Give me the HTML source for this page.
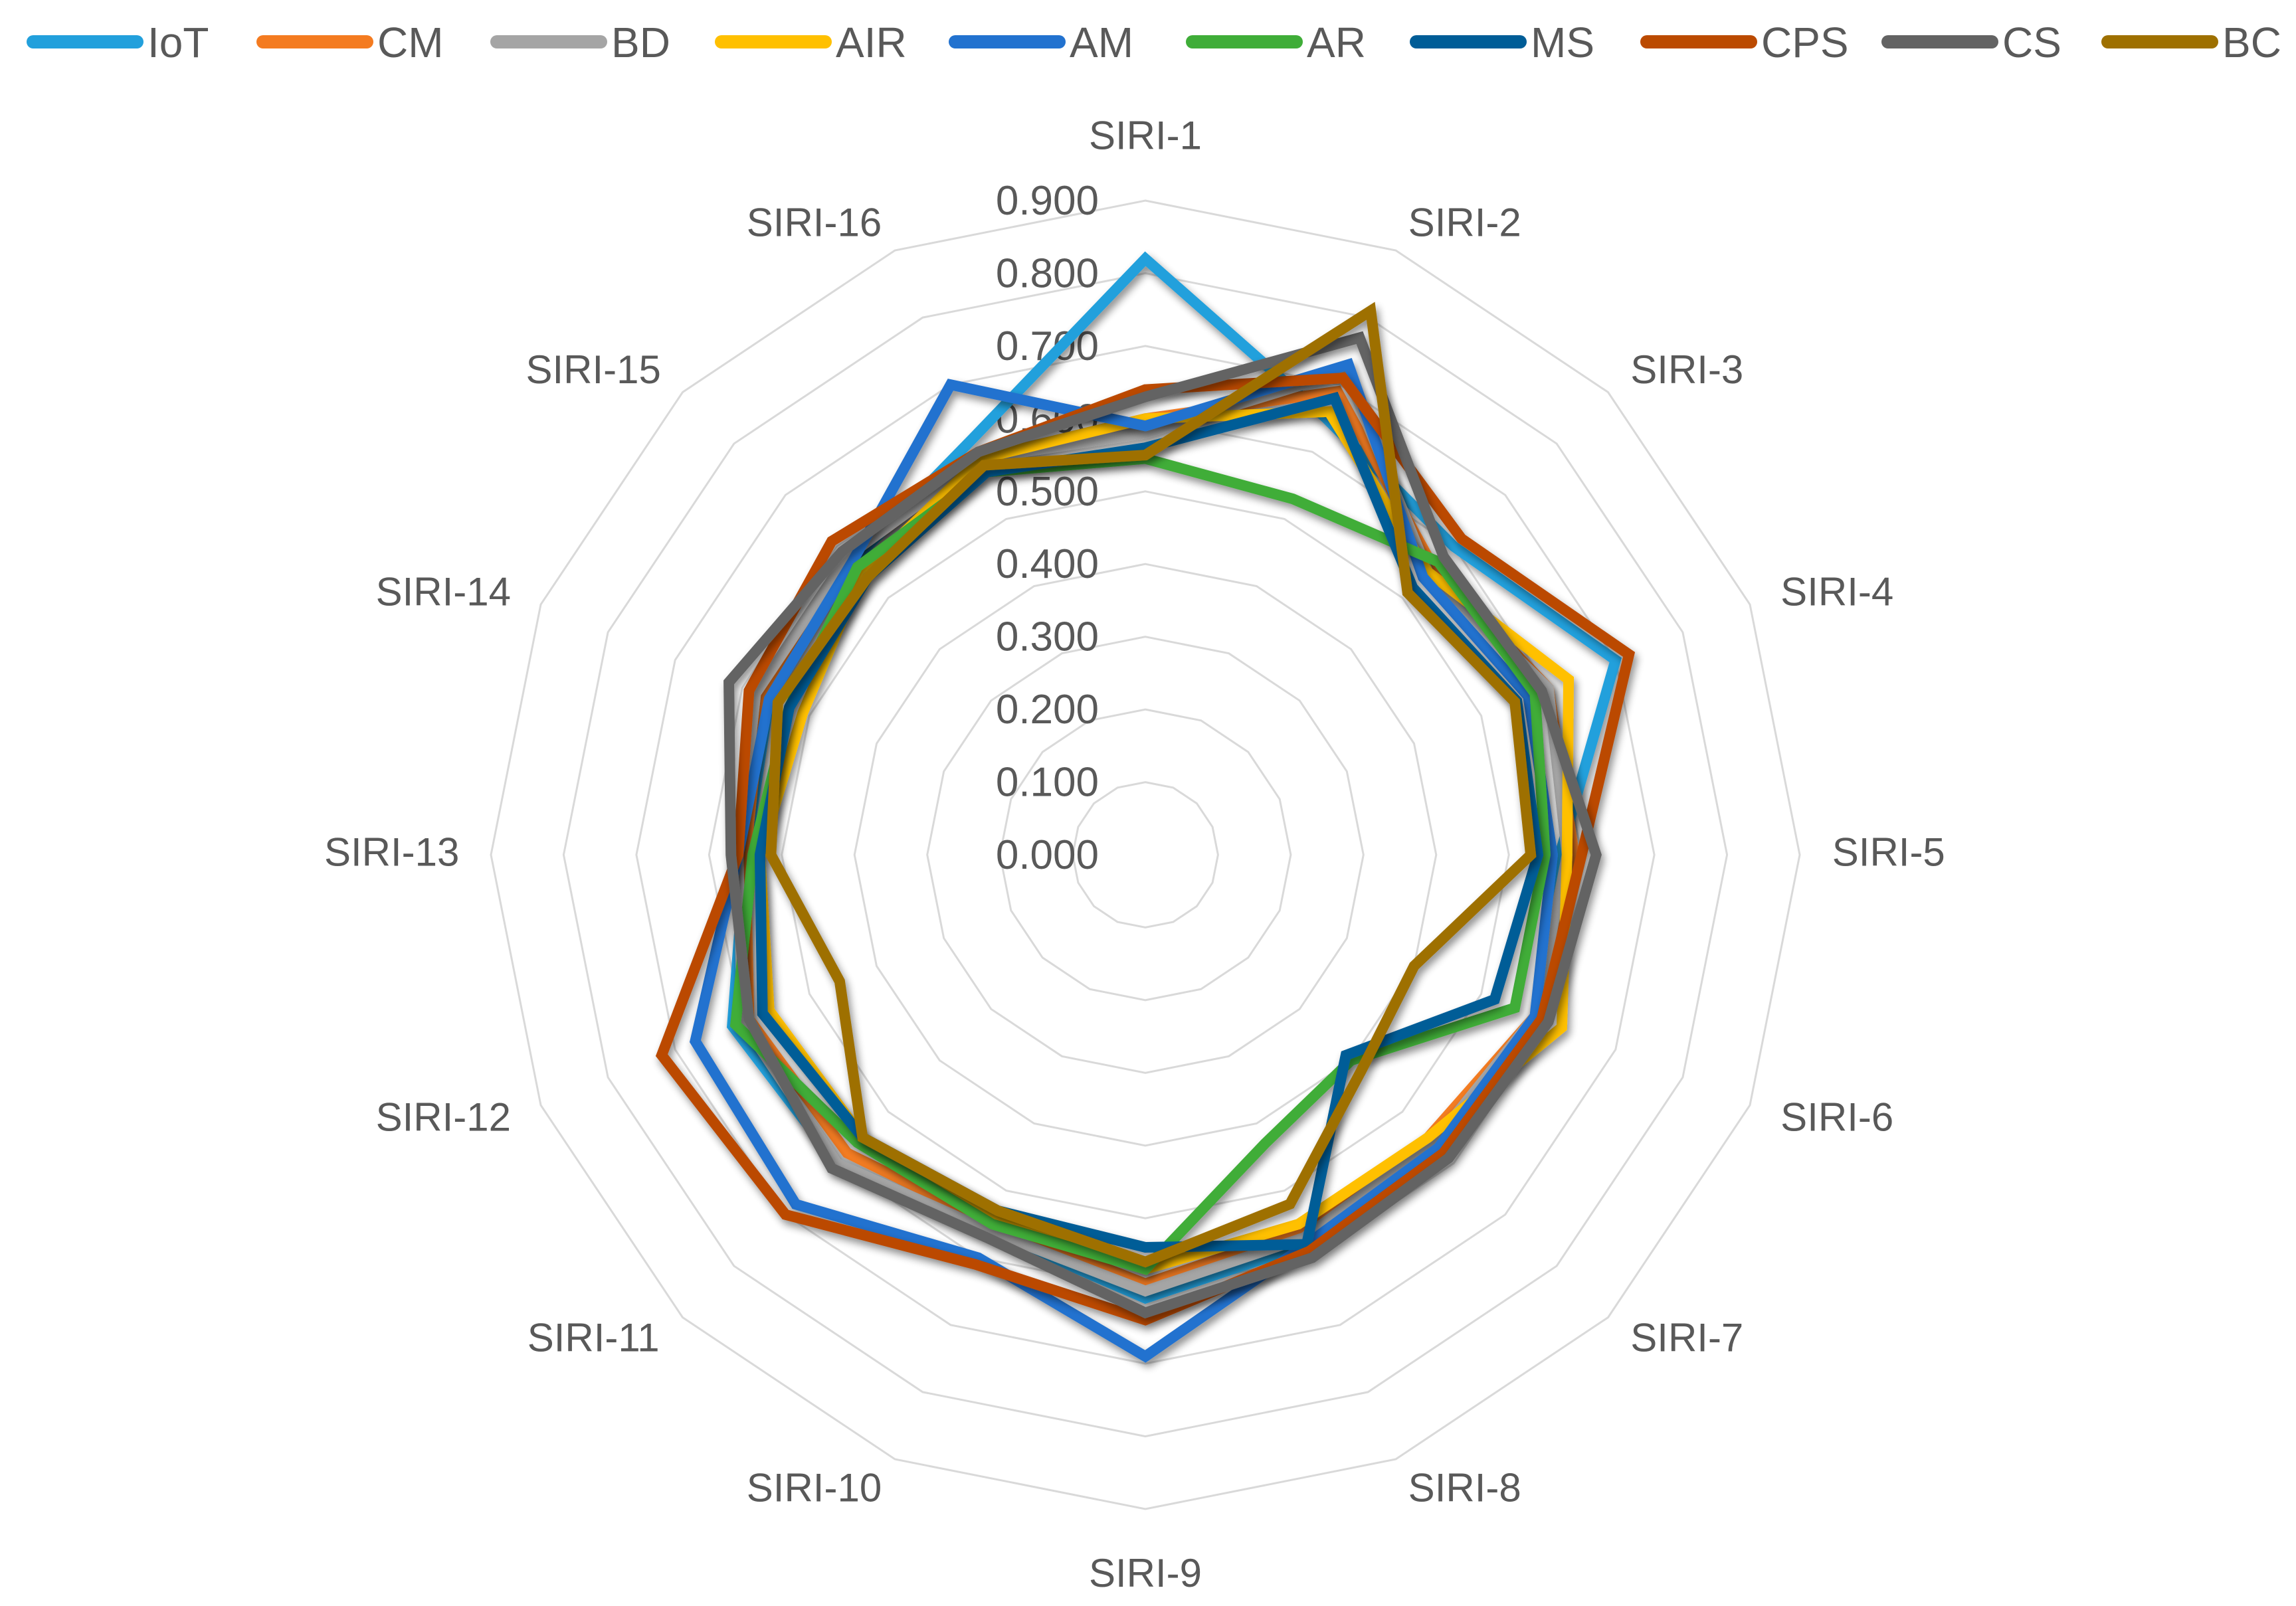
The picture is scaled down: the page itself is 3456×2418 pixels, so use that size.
<!DOCTYPE html>
<html><head><meta charset="utf-8">
<style>
html,body{margin:0;padding:0;background:#fff;}
svg{display:block;font-family:"Liberation Sans",sans-serif;}
</style></head>
<body>
<svg id="chart" width="3456" height="2418" viewBox="0 0 3456 2418" xmlns="http://www.w3.org/2000/svg">
<defs>
<filter id="sh" x="-10%" y="-10%" width="120%" height="120%">
<feGaussianBlur in="SourceAlpha" stdDeviation="6"/>
<feOffset dx="4" dy="7" result="b"/>
<feComponentTransfer><feFuncA type="linear" slope="0.45"/></feComponentTransfer>
<feMerge><feMergeNode/><feMergeNode in="SourceGraphic"/></feMerge>
</filter>
</defs>
<g id="grid"></g>
<g id="ticks"></g>
<g id="series"></g>
<g id="cats"></g>
<g id="legend"></g>
</svg>
<script>
const categories = ["SIRI-1","SIRI-2","SIRI-3","SIRI-4","SIRI-5","SIRI-6","SIRI-7","SIRI-8","SIRI-9","SIRI-10","SIRI-11","SIRI-12","SIRI-13","SIRI-14","SIRI-15","SIRI-16"];
const tickValues = [0,0.1,0.2,0.3,0.4,0.5,0.6,0.7,0.8,0.9];
const tickLabels = ["0.000","0.100","0.200","0.300","0.400","0.500","0.600","0.700","0.800","0.900"];
const seriesNames = ["IoT","CM","BD","AIR","AM","AR","MS","CPS","CS","BC"];
const seriesColors = ["#22a0dc","#f47b20","#a5a5a5","#ffc000","#2272cf","#3fad38","#005d97","#bb4a00","#636363","#9e7000"];
const IoT = [0.82,0.65,0.60,0.70,0.57,0.58,0.56,0.58,0.61,0.56,0.60,0.615,0.55,0.56,0.57,0.62];
const CM  = [0.60,0.69,0.56,0.60,0.59,0.58,0.55,0.56,0.59,0.55,0.58,0.59,0.55,0.57,0.58,0.59];
const BD  = [0.58,0.72,0.55,0.60,0.58,0.58,0.56,0.57,0.60,0.56,0.60,0.60,0.56,0.58,0.58,0.59];
const AIR = [0.60,0.66,0.55,0.63,0.58,0.62,0.55,0.55,0.57,0.54,0.55,0.56,0.53,0.51,0.55,0.59];
const AM  = [0.59,0.73,0.54,0.57,0.56,0.58,0.57,0.58,0.69,0.60,0.68,0.67,0.56,0.56,0.57,0.70];
const AR  = [0.545,0.53,0.57,0.58,0.55,0.55,0.40,0.43,0.57,0.55,0.56,0.61,0.54,0.53,0.56,0.57];
const MS  = [0.56,0.68,0.52,0.553,0.54,0.52,0.39,0.58,0.54,0.53,0.55,0.57,0.53,0.53,0.54,0.57];
const CPS = [0.64,0.71,0.615,0.72,0.60,0.59,0.58,0.59,0.64,0.61,0.70,0.72,0.56,0.59,0.61,0.60];
const CS  = [0.63,0.77,0.58,0.59,0.62,0.60,0.59,0.60,0.63,0.57,0.61,0.59,0.57,0.62,0.59,0.60];
const BC  = [0.55,0.81,0.51,0.55,0.53,0.40,0.42,0.52,0.56,0.53,0.55,0.455,0.515,0.547,0.54,0.58];
const seriesValues = [IoT,CM,BD,AIR,AM,AR,MS,CPS,CS,BC];

const NS="http://www.w3.org/2000/svg";
const CX=1724, CY=1287, RMAX=985, VMAX=0.9;
function rScale(v){return v/VMAX*RMAX;}
function angle(i){return i*2*Math.PI/categories.length;}
function pt(i,v){const a=angle(i),r=rScale(v);return [CX+r*Math.sin(a),CY-r*Math.cos(a)];}
function mk(tag,attrs,parent){const e=document.createElementNS(NS,tag);for(const k in attrs)e.setAttribute(k,attrs[k]);parent.appendChild(e);return e;}

const grid=document.getElementById('grid');
tickValues.forEach((t,ti)=>{
  if(t<=0)return;
  const pts=categories.map((c,i)=>pt(i,t).map(n=>n.toFixed(1)).join(',')).join(' ');
  const p=mk('polygon',{points:pts,fill:'none',stroke:'#d9d9d9','stroke-width':3},grid);
  
  
});

const ticks=document.getElementById('ticks');
tickValues.forEach((t,ti)=>{
  const y=CY-rScale(t);
  const tx=mk('text',{x:CX-70,y:y+21,'text-anchor':'end','font-size':62,fill:'#595959'},ticks);
  tx.textContent=tickLabels[ti];
  
  
});

const sg=document.getElementById('series');
seriesValues.forEach((vals,si)=>{
  const pts=vals.map((v,i)=>pt(i,v).map(n=>n.toFixed(1)).join(',')).join(' ');
  const p=mk('polygon',{points:pts,fill:'none',stroke:seriesColors[si],'stroke-width':16,'stroke-linejoin':'miter','stroke-miterlimit':10,filter:'url(#sh)'},sg);
  
  
});

// label layout offsets (display-measured, pixels relative to chart centre)
const labelPos = [[0,-489],[217,-430],[368,-330],[470,-179],[505,-2],[470,178],[368,328],[217,430],[0,488],[-225,430],[-375,328],[-477,178],[-512,-2],[-477,-179],[-375,-330],[-225,-430]];
const S=2.2154;
const cats=document.getElementById('cats');
categories.forEach((c,i)=>{
  const x=CX+labelPos[i][0]*S, y=CY+labelPos[i][1]*S;
  const t=mk('text',{x:x.toFixed(1),y:(y+21).toFixed(1),'text-anchor':'middle','font-size':60,fill:'#595959'},cats);
  t.textContent=c;
  
  
});

const lg=document.getElementById('legend');
const legX=[40,386,738,1076,1428,1785,2122,2469,2832,3163];
seriesNames.forEach((n,si)=>{
  const g=mk('g',{},lg);
  
  
  const x0=legX[si];
  const l=mk('line',{x1:x0+10,y1:63,x2:x0+166,y2:63,stroke:seriesColors[si],'stroke-width':20,'stroke-linecap':'round'},g);
  
  
  const t=mk('text',{x:x0+182,y:86,'font-size':64,fill:'#595959'},g);
  t.textContent=n;
  
  
});
</script>
</body></html>
